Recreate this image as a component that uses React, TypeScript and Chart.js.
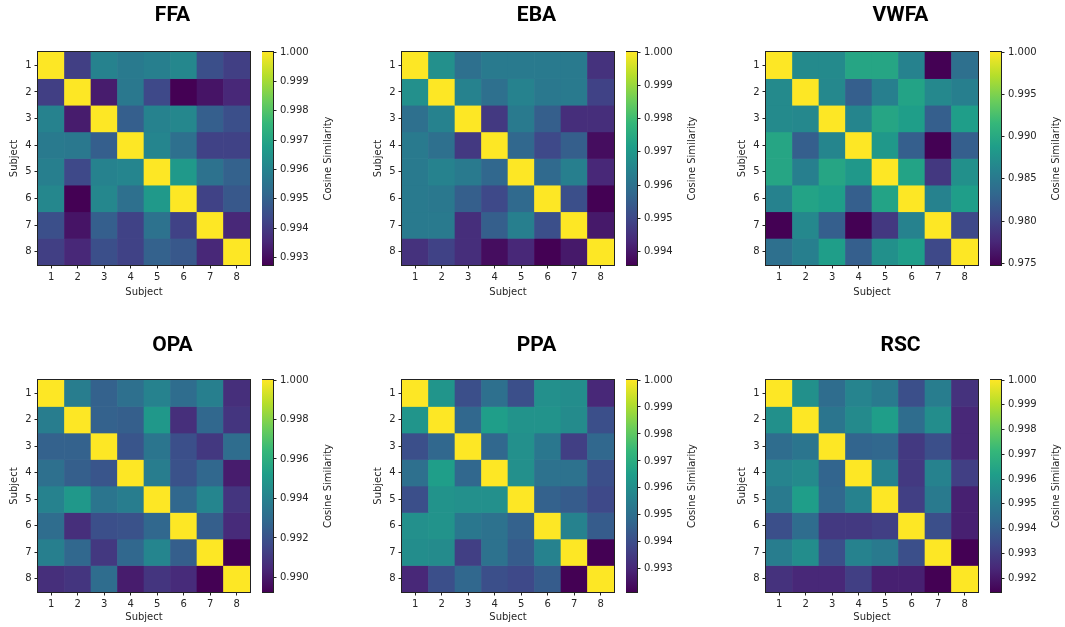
import React, { useEffect, useRef } from 'react';
import { Chart, registerables } from 'chart.js';

Chart.register(...registerables);

// ---------- data ----------
const subjects = ['1', '2', '3', '4', '5', '6', '7', '8'];

const ffa = [
  [1, 0.99412, 0.99597, 0.99573, 0.99589, 0.99613, 0.99452, 0.99412],
  [0.99412, 1, 0.99331, 0.99565, 0.99436, 0.99275, 0.99315, 0.99356],
  [0.99597, 0.99331, 1, 0.99493, 0.99597, 0.99613, 0.99493, 0.99452],
  [0.99573, 0.99565, 0.99493, 1, 0.99605, 0.99541, 0.9942, 0.9942],
  [0.99589, 0.99436, 0.99597, 0.99605, 1, 0.99662, 0.99549, 0.99501],
  [0.99613, 0.99275, 0.99613, 0.99541, 0.99662, 1, 0.9942, 0.99476],
  [0.99452, 0.99315, 0.99493, 0.9942, 0.99549, 0.9942, 1, 0.99356],
  [0.99412, 0.99356, 0.99452, 0.9942, 0.99501, 0.99476, 0.99356, 1],
];

const eba = [
  [1, 0.9968, 0.99595, 0.99623, 0.99623, 0.99623, 0.99623, 0.99452],
  [0.9968, 1, 0.99644, 0.99595, 0.99644, 0.99616, 0.99623, 0.99488],
  [0.99595, 0.99644, 1, 0.99467, 0.99623, 0.99552, 0.99445, 0.99445],
  [0.99623, 0.99595, 0.99467, 1, 0.99573, 0.99502, 0.99552, 0.99381],
  [0.99623, 0.99644, 0.99623, 0.99573, 1, 0.9958, 0.99637, 0.99431],
  [0.99623, 0.99616, 0.99552, 0.99502, 0.9958, 1, 0.99516, 0.9936],
  [0.99623, 0.99623, 0.99445, 0.99552, 0.99637, 0.99516, 1, 0.99403],
  [0.99452, 0.99488, 0.99445, 0.99381, 0.99431, 0.9936, 0.99403, 1],
];

const vwfa = [
  [1, 0.98684, 0.98684, 0.98964, 0.98964, 0.986, 0.9748, 0.98404],
  [0.98684, 1, 0.98656, 0.98236, 0.98572, 0.98936, 0.98656, 0.98572],
  [0.98684, 0.98656, 1, 0.98628, 0.98964, 0.9888, 0.98236, 0.9888],
  [0.98964, 0.98236, 0.98628, 1, 0.98824, 0.98236, 0.9748, 0.98236],
  [0.98964, 0.98572, 0.98964, 0.98824, 1, 0.98936, 0.979, 0.9874],
  [0.986, 0.98936, 0.9888, 0.98236, 0.98936, 1, 0.986, 0.9888],
  [0.9748, 0.98656, 0.98236, 0.9748, 0.979, 0.986, 1, 0.9804],
  [0.98404, 0.98572, 0.9888, 0.98236, 0.9874, 0.9888, 0.9804, 1],
];

const opa = [
  [1, 0.99379, 0.9926, 0.9932, 0.99403, 0.99308, 0.99391, 0.99069],
  [0.99379, 1, 0.9926, 0.99248, 0.99499, 0.99069, 0.99284, 0.99093],
  [0.9926, 0.9926, 1, 0.99212, 0.99344, 0.99188, 0.99105, 0.99308],
  [0.9932, 0.99248, 0.99212, 1, 0.99379, 0.992, 0.99284, 0.9901],
  [0.99403, 0.99499, 0.99344, 0.99379, 1, 0.99284, 0.99415, 0.99093],
  [0.99308, 0.99069, 0.99188, 0.992, 0.99284, 1, 0.99248, 0.99057],
  [0.99391, 0.99284, 0.99105, 0.99284, 0.99415, 0.99248, 1, 0.98926],
  [0.99069, 0.99093, 0.99308, 0.9901, 0.99093, 0.99057, 0.98926, 1],
];

const ppa = [
  [1, 0.99624, 0.99406, 0.99502, 0.99406, 0.99607, 0.99598, 0.99301],
  [0.99624, 1, 0.99476, 0.99651, 0.99616, 0.99616, 0.9959, 0.99406],
  [0.99406, 0.99476, 1, 0.99476, 0.99607, 0.99528, 0.99362, 0.99476],
  [0.99502, 0.99651, 0.99476, 1, 0.99607, 0.99511, 0.99511, 0.99406],
  [0.99406, 0.99616, 0.99607, 0.99607, 1, 0.99459, 0.99441, 0.99389],
  [0.99607, 0.99616, 0.99528, 0.99511, 0.99459, 1, 0.99563, 0.99441],
  [0.99598, 0.9959, 0.99362, 0.99511, 0.99441, 0.99563, 1, 0.99214],
  [0.99301, 0.99406, 0.99476, 0.99406, 0.99389, 0.99441, 0.99214, 1],
];

const rsc = [
  [1, 0.99572, 0.99448, 0.9953, 0.99496, 0.99353, 0.99505, 0.99268],
  [0.99572, 1, 0.99477, 0.99553, 0.9962, 0.99448, 0.99562, 0.99239],
  [0.99448, 0.99477, 1, 0.9942, 0.99429, 0.99287, 0.99353, 0.99239],
  [0.9953, 0.99553, 0.9942, 1, 0.99524, 0.99287, 0.99524, 0.99306],
  [0.99496, 0.9962, 0.99429, 0.99524, 1, 0.99306, 0.99496, 0.9922],
  [0.99353, 0.99448, 0.99287, 0.99287, 0.99306, 1, 0.99353, 0.9922],
  [0.99505, 0.99562, 0.99353, 0.99524, 0.99496, 0.99353, 1, 0.99144],
  [0.99268, 0.99239, 0.99239, 0.99306, 0.9922, 0.9922, 0.99144, 1],
];

const ffaTicks = [0.993, 0.994, 0.995, 0.996, 0.997, 0.998, 0.999, 1.0];
const ebaTicks = [0.994, 0.995, 0.996, 0.997, 0.998, 0.999, 1.0];
const vwfaTicks = [0.975, 0.98, 0.985, 0.99, 0.995, 1.0];
const opaTicks = [0.99, 0.992, 0.994, 0.996, 0.998, 1.0];
const ppaTicks = [0.993, 0.994, 0.995, 0.996, 0.997, 0.998, 0.999, 1.0];
const rscTicks = [0.992, 0.993, 0.994, 0.995, 0.996, 0.997, 0.998, 0.999, 1.0];

const regionNames = ['FFA', 'EBA', 'VWFA', 'OPA', 'PPA', 'RSC'];
const matrices = [ffa, eba, vwfa, opa, ppa, rsc];
const tickSets = [ffaTicks, ebaTicks, vwfaTicks, opaTicks, ppaTicks, rscTicks];

// ---------- styling / layout ----------
const VIRIDIS: number[][] = [
  [68, 1, 84], [72, 40, 120], [62, 73, 137], [49, 104, 142], [38, 130, 142],
  [31, 158, 137], [53, 183, 121], [110, 206, 88], [181, 222, 43], [253, 231, 37],
];

function viridis(t: number): string {
  const tt = Math.max(0, Math.min(1, t));
  const n = VIRIDIS.length - 1;
  const x = tt * n;
  const i = Math.min(Math.floor(x), n - 1);
  const f = x - i;
  const a = VIRIDIS[i];
  const b = VIRIDIS[i + 1];
  const c = a.map((v, k) => Math.round(v + (b[k] - v) * f));
  return `rgb(${c[0]},${c[1]},${c[2]})`;
}

const TEXT = '#262626';
const FONT = { family: '"DejaVu Sans", sans-serif', size: 10 };
const COL_HM_LEFT = [38, 402, 766];
const COL_CB_LEFT = [262, 626, 990];
const ROWS = [
  { top: 0, height: 300, titlePadTop: 3.5, titlePadBottom: 23.3, xAxisH: 35, xTitlePad: 2, plotTop: 52, plotBottom: 265 },
  { top: 320, height: 307, titlePadTop: 13.5, titlePadBottom: 21.3, xAxisH: 35, xTitlePad: 3.3, plotTop: 380, plotBottom: 592 },
];
const HM_CANVAS_W = 345;
const CB_CANVAS_W = 90;
const CB_W = 11;

const framePlugin = {
  id: 'frame',
  afterDatasetsDraw(chart: any) {
    const { ctx, chartArea: a } = chart;
    const x0 = Math.round(a.left) - 0.5;
    const x1 = Math.round(a.right) + 0.5;
    const y0 = Math.round(a.top) - 0.5;
    const y1 = Math.round(a.bottom) + 0.5;
    ctx.save();
    ctx.strokeStyle = '#222';
    ctx.lineWidth = 1;
    ctx.strokeRect(x0, y0, x1 - x0, y1 - y0);
    ctx.restore();
  },
};

const cbLabelPlugin = {
  id: 'cbLabel',
  afterDraw(chart: any) {
    const { ctx, chartArea: a } = chart;
    ctx.save();
    ctx.translate(a.left + 66.5, (a.top + a.bottom) / 2);
    ctx.rotate(-Math.PI / 2);
    ctx.font = '10px "DejaVu Sans", sans-serif';
    ctx.fillStyle = TEXT;
    ctx.textAlign = 'center';
    ctx.textBaseline = 'middle';
    ctx.fillText('Cosine Similarity', 0, 0);
    ctx.restore();
  },
};

function Panel({ idx }: { idx: number }) {
  const hmRef = useRef<HTMLCanvasElement>(null);
  const cbRef = useRef<HTMLCanvasElement>(null);
  const col = idx % 3;
  const row = ROWS[Math.floor(idx / 3)];
  const hmLeft = COL_HM_LEFT[col] - 38;
  const cbLeft = COL_CB_LEFT[col];

  useEffect(() => {
    const matrix = matrices[idx];
    const ticks = tickSets[idx];
    let vmin = 1;
    matrix.forEach((r) => r.forEach((v) => { if (v < vmin) vmin = v; }));
    const norm = (v: number) => (v - vmin) / (1 - vmin);

    const datasets = matrix.map((r, ri) => ({
      data: r.map(() => [ri + 0.5, ri + 1.5]),
      backgroundColor: r.map((v) => viridis(norm(v))),
      borderWidth: 0,
      barPercentage: 1,
      categoryPercentage: 1,
      grouped: false,
    }));

    const hm = new Chart(hmRef.current as HTMLCanvasElement, {
      type: 'bar',
      data: { labels: subjects, datasets: datasets as any },
      options: {
        responsive: false,
        animation: false,
        devicePixelRatio: 1,
        layout: { padding: 0 },
        plugins: {
          legend: { display: false },
          tooltip: { enabled: false },
          title: {
            display: true,
            text: regionNames[idx],
            color: '#000',
            font: { family: 'Roboto, "Liberation Sans", sans-serif', size: 21, weight: 'bold', lineHeight: 1.2 },
            padding: { top: row.titlePadTop, bottom: row.titlePadBottom },
          },
        },
        scales: {
          x: {
            type: 'category',
            offset: true,
            grid: { offset: false, drawOnChartArea: false, drawTicks: true, tickLength: 3.5, color: '#222' },
            border: { display: false },
            ticks: { font: FONT, color: TEXT, padding: 2.5, maxRotation: 0, autoSkip: false },
            afterFit: (s: any) => { s.height = row.xAxisH; },
            title: { display: true, text: 'Subject', font: FONT, color: TEXT, padding: { top: 0, bottom: row.xTitlePad } },
          },
          y: {
            type: 'linear',
            min: 0.5,
            max: 8.5,
            reverse: true,
            afterBuildTicks: (s: any) => { s.ticks = subjects.map((_, i) => ({ value: i + 1 })); },
            afterFit: (s: any) => { s.width = 38; },
            ticks: { font: FONT, color: TEXT, padding: 3, autoSkip: false, callback: (v: any) => subjects[Number(v) - 1] },
            grid: { drawOnChartArea: false, drawTicks: true, tickLength: 3.5, color: '#222' },
            border: { display: false },
            title: { display: true, text: 'Subject', font: FONT, color: TEXT, padding: { top: 8, bottom: 0 } },
          },
          pad: {
            type: 'linear',
            position: 'right',
            display: true,
            ticks: { display: false },
            grid: { display: false },
            border: { display: false },
            afterFit: (s: any) => { s.width = HM_CANVAS_W - 38 - 212; },
          },
        },
      } as any,
      plugins: [framePlugin],
    });

    const cb = new Chart(cbRef.current as HTMLCanvasElement, {
      type: 'bar',
      data: {
        labels: ['cb'],
        datasets: [{
          data: [[vmin, 1]] as any,
          borderWidth: 0,
          barPercentage: 1,
          categoryPercentage: 1,
          backgroundColor: (c: any) => {
            const a = c.chart.chartArea;
            if (!a) return 'transparent';
            const g = c.chart.ctx.createLinearGradient(0, a.bottom, 0, a.top);
            VIRIDIS.forEach((v, i) => g.addColorStop(i / (VIRIDIS.length - 1), `rgb(${v[0]},${v[1]},${v[2]})`));
            return g;
          },
        }],
      },
      options: {
        responsive: false,
        animation: false,
        devicePixelRatio: 1,
        layout: { padding: { top: row.plotTop - row.top, bottom: row.top + row.height - row.plotBottom, left: 0, right: 0 } },
        plugins: { legend: { display: false }, tooltip: { enabled: false } },
        scales: {
          x: { display: false, offset: true },
          y: {
            position: 'right',
            min: vmin,
            max: 1,
            afterBuildTicks: (s: any) => { s.ticks = ticks.map((v) => ({ value: v })); },
            afterFit: (s: any) => { s.width = CB_CANVAS_W - CB_W; },
            ticks: { font: FONT, color: TEXT, padding: 3.5, autoSkip: false, callback: (v: any) => Number(v).toFixed(3) },
            grid: { drawOnChartArea: false, drawTicks: true, tickLength: 3.5, color: '#222' },
            border: { display: false },
          },
        },
      } as any,
      plugins: [framePlugin, cbLabelPlugin],
    });

    return () => { hm.destroy(); cb.destroy(); };
  }, [idx]);

  return (
    <>
      <canvas
        ref={hmRef}
        width={HM_CANVAS_W}
        height={row.height}
        style={{ position: 'absolute', left: hmLeft, top: row.top, width: HM_CANVAS_W, height: row.height }}
      />
      <canvas
        ref={cbRef}
        width={CB_CANVAS_W}
        height={row.height}
        style={{ position: 'absolute', left: cbLeft, top: row.top, width: CB_CANVAS_W, height: row.height }}
      />
    </>
  );
}

export default function App() {
  return (
    <div style={{ position: 'absolute', left: 0, top: 0, width: 1065, height: 627, background: '#fff', overflow: 'hidden' }}>
      {regionNames.map((_, i) => <Panel key={i} idx={i} />)}
    </div>
  );
}
